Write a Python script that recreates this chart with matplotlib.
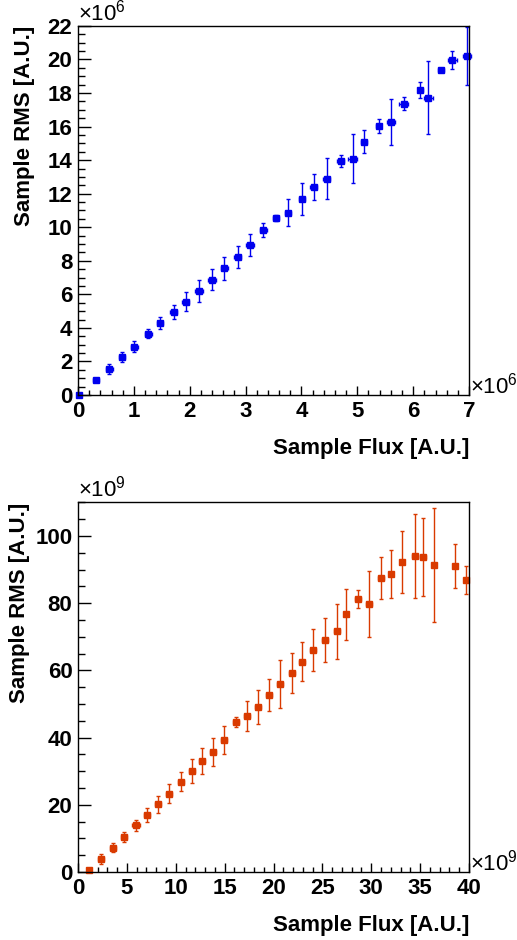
import numpy as np
import matplotlib
matplotlib.use('Agg')
import matplotlib.pyplot as plt
from matplotlib.ticker import MultipleLocator

plt.rcParams['font.family'] = ['Liberation Sans', 'DejaVu Sans']
plt.rcParams['mathtext.fontset'] = 'custom'
plt.rcParams['mathtext.rm'] = 'Liberation Sans'

# Top panel (units of 1e6)
flux_top = [0.02, 0.32, 0.56, 0.79, 1.01, 1.26, 1.47, 1.71, 1.93, 2.17, 2.40, 2.62,
            2.86, 3.08, 3.32, 3.54, 3.76, 4.01, 4.22, 4.45, 4.70, 4.92, 5.12, 5.38,
            5.60, 5.83, 6.13, 6.27, 6.50, 6.70, 6.97]
rms_top = [0.0, 0.89, 1.55, 2.25, 2.88, 3.66, 4.29, 4.95, 5.55, 6.20, 6.88, 7.55,
           8.23, 8.94, 9.82, 10.55, 10.87, 11.67, 12.40, 12.90, 13.93, 14.09, 15.10, 16.02,
           16.26, 17.37, 18.17, 17.73, 19.40, 19.96, 20.20]
err_top = [0.0, 0.12, 0.28, 0.30, 0.33, 0.29, 0.37, 0.42, 0.56, 0.67, 0.64, 0.70,
           0.67, 0.68, 0.41, 0.20, 0.80, 0.95, 0.75, 1.20, 0.35, 1.44, 0.68, 0.42,
           1.38, 0.41, 0.48, 2.16, 0.10, 0.54, 1.73]
xerr_top = [0.0, 0.06, 0.06, 0.06, 0.07, 0.06, 0.05, 0.07, 0.06, 0.07, 0.07, 0.06,
            0.06, 0.07, 0.06, 0.05, 0.06, 0.06, 0.06, 0.06, 0.06, 0.08, 0.06, 0.05,
            0.07, 0.08, 0.04, 0.08, 0.05, 0.08, 0.07]

# Bottom panel (units of 1e9)
flux_bot = [1.16, 2.39, 3.62, 4.74, 5.93, 7.02, 8.18, 9.27, 10.50, 11.66, 12.69, 13.80,
            14.94, 16.13, 17.30, 18.45, 19.57, 20.67, 21.86, 22.90, 24.07, 25.30, 26.50,
            27.45, 28.67, 29.74, 30.97, 31.99, 33.10, 34.50, 35.30, 36.40, 38.60, 39.70]
rms_bot = [0.5, 3.87, 7.24, 10.4, 13.9, 16.9, 20.1, 23.3, 26.9, 30.1, 33.1, 35.7,
           39.3, 44.7, 46.5, 49.1, 52.7, 55.95, 59.3, 62.5, 66.1, 69.1, 71.6,
           76.7, 81.3, 79.8, 87.5, 88.6, 92.2, 94.0, 93.6, 91.3, 91.1, 86.9]
err_bot = [0.0, 1.5, 1.3, 1.5, 1.7, 2.1, 2.5, 2.9, 2.9, 3.5, 3.8, 4.1,
           4.1, 1.5, 4.4, 5.0, 4.7, 7.1, 5.9, 5.8, 6.2, 6.5, 8.2,
           7.6, 2.6, 9.8, 6.2, 7.2, 9.2, 12.6, 11.6, 17.0, 6.5, 4.1]
xerr_bot = [0.0, 0.3, 0.3, 0.3, 0.4, 0.3, 0.3, 0.3, 0.3, 0.3, 0.3, 0.3,
            0.3, 0.3, 0.3, 0.3, 0.3, 0.3, 0.3, 0.3, 0.3, 0.3, 0.3,
            0.2, 0.3, 0.3, 0.3, 0.2, 0.2, 0.3, 0.3, 0.2, 0.2, 0.2]

fig = plt.figure(figsize=(5.17, 9.4), dpi=100)
ax1 = fig.add_axes([0.1509, 0.5798, 0.7563, 0.3926])
ax2 = fig.add_axes([0.1509, 0.0723, 0.7563, 0.3933])


def style_axes(ax, xmax, ymax, xmaj, xmin, ymaj, ymin, exp, ypad):
    ax.set_xlim(0, xmax)
    ax.set_ylim(0, ymax)
    ax.xaxis.set_major_locator(MultipleLocator(xmaj))
    ax.xaxis.set_minor_locator(MultipleLocator(xmin))
    ax.yaxis.set_major_locator(MultipleLocator(ymaj))
    ax.yaxis.set_minor_locator(MultipleLocator(ymin))
    ax.tick_params(which='both', direction='in', top=False, right=False,
                   labelsize=16, width=1.0)
    ax.tick_params(axis='x', which='major', length=6.5, pad=4)
    ax.tick_params(axis='x', which='minor', length=3.5)
    ax.tick_params(axis='y', which='major', length=9.5, pad=4)
    ax.tick_params(axis='y', which='minor', length=5)
    for lab in ax.get_xticklabels() + ax.get_yticklabels():
        lab.set_fontweight('bold')
    for sp in ax.spines.values():
        sp.set_linewidth(1.0)
    ax.set_xlabel('Sample Flux [A.U.]', fontsize=16, fontweight='bold',
                  loc='right', labelpad=12)
    ax.set_ylabel('Sample RMS [A.U.]', fontsize=16, fontweight='bold',
                  loc='top', labelpad=ypad)
    ax.text(0.0, 1.002, r'$\times$10$^{%d}$' % exp, transform=ax.transAxes,
            fontsize=16, ha='left', va='bottom')
    ax.text(1.003, 0.004, r'$\times$10$^{%d}$' % exp, transform=ax.transAxes,
            fontsize=16, ha='left', va='baseline')


ax1.errorbar(flux_top, rms_top, yerr=err_top, xerr=xerr_top, fmt='s',
             color='#0000ee', markersize=4.2, elinewidth=1.0, capsize=1.5,
             clip_on=False)
style_axes(ax1, 7, 22, 1, 0.2, 2, 0.5, 6, 9)

ax2.errorbar(flux_bot, rms_bot, yerr=err_bot, xerr=xerr_bot, fmt='s',
             color='#d93a00', markersize=4.2, elinewidth=1.0, capsize=1.5,
             clip_on=False)
style_axes(ax2, 40, 110, 5, 1, 20, 5, 9, 4)

fig.savefig('out.png', dpi=100)
